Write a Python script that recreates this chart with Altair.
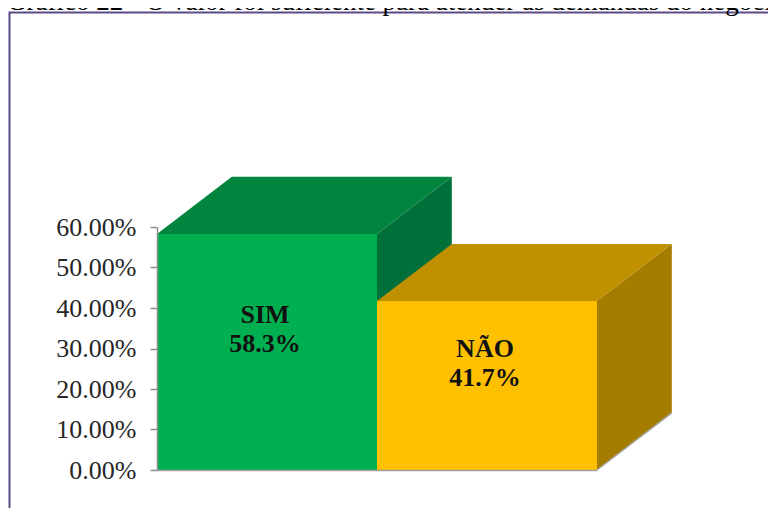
import altair as alt
import pandas as pd

# ---- data ----
categories = ["SIM", "NÃO"]
values = [0.583, 0.417]
front_colors = ["#00B050", "#FFC000"]
top_colors = ["#00843E", "#BF9000"]
side_colors = ["#00703A", "#A47D00"]
y_ticks = [0.0, 0.1, 0.2, 0.3, 0.4, 0.5, 0.6]
title_text = "Gráfico 22 - O valor foi suficiente para atender as demandas do negócio"

# 3D depth of the Excel-like bars (in data units)
DEPTH_X = 0.34
DEPTH_Y = 0.141
BAR_W = 1.0

front_rows, top_rows, side_rows, edge_rows, label_rows = [], [], [], [], []
for i, (c, v) in enumerate(zip(categories, values)):
    x0 = i * BAR_W
    x1 = x0 + BAR_W
    front_rows.append(dict(cat=c, x=x0, x2=x1, lo=0.0, hi=v, fill=front_colors[i]))
    top_rows += [
        dict(cat=c, x=x0, lo=v, hi=v, fill=top_colors[i]),
        dict(cat=c, x=x0 + DEPTH_X, lo=v, hi=v + DEPTH_Y, fill=top_colors[i]),
        dict(cat=c, x=x1, lo=v, hi=v + DEPTH_Y, fill=top_colors[i]),
        dict(cat=c, x=x1 + DEPTH_X, lo=v + DEPTH_Y, hi=v + DEPTH_Y, fill=top_colors[i]),
    ]
    side_rows += [
        dict(cat=c, x=x1, lo=0.0, hi=v, fill=side_colors[i]),
        dict(cat=c, x=x1 + DEPTH_X, lo=DEPTH_Y, hi=v + DEPTH_Y, fill=side_colors[i]),
    ]
    edge_rows.append(dict(cat=c, x=x1, x2=x1 + DEPTH_X, lo=0.0, hi=DEPTH_Y))
    label_rows.append(dict(cat=c, x=x0 + BAR_W / 2, y=v / 2,
                           label=f"{c}\n{v * 100:.1f}%"))

front_df = pd.DataFrame(front_rows)
top_df = pd.DataFrame(top_rows)
side_df = pd.DataFrame(side_rows)
edge_df = pd.DataFrame(edge_rows)
label_df = pd.DataFrame(label_rows)

xs = alt.Scale(domain=[0, len(categories) * BAR_W], nice=False, zero=False)
ys = alt.Scale(domain=[0, 0.6], nice=False)

y_axis = alt.Axis(values=y_ticks, format=".2%", title=None, grid=False,
                  labelFont="Liberation Serif", labelFontSize=26,
                  labelColor="#262626", labelPadding=14,
                  tickColor="#8c8c8c", tickSize=7, tickWidth=1.5,
                  domainColor="#8c8c8c", domainWidth=1.5, zindex=1)
x_axis = alt.Axis(labels=False, ticks=False, title=None, grid=False,
                  domainColor="#a0a0a0", domainWidth=1.5, zindex=1)

sides = alt.Chart(side_df).mark_area(orient="vertical", interpolate="linear").encode(
    x=alt.X("x:Q", scale=xs, axis=x_axis),
    y=alt.Y("lo:Q", scale=ys, axis=y_axis, stack=None),
    y2="hi:Q",
    color=alt.Color("fill:N", scale=None),
    detail="cat:N",
)

tops = alt.Chart(top_df).mark_area(orient="vertical", interpolate="linear").encode(
    x=alt.X("x:Q", scale=xs, axis=x_axis),
    y=alt.Y("lo:Q", scale=ys, axis=y_axis, stack=None),
    y2="hi:Q",
    color=alt.Color("fill:N", scale=None),
    detail="cat:N",
)

edges = alt.Chart(edge_df).mark_rule(color="#a6a6a6", strokeWidth=1.5).encode(
    x=alt.X("x:Q", scale=xs, axis=x_axis),
    x2="x2:Q",
    y=alt.Y("lo:Q", scale=ys, axis=y_axis),
    y2="hi:Q",
)

fronts = alt.Chart(front_df).mark_rect().encode(
    x=alt.X("x:Q", scale=xs, axis=x_axis),
    x2="x2:Q",
    y=alt.Y("lo:Q", scale=ys, axis=y_axis),
    y2="hi:Q",
    color=alt.Color("fill:N", scale=None),
)

labels = alt.Chart(label_df).mark_text(
    font="Liberation Serif", fontSize=26, fontWeight="bold", color="#111111",
    lineBreak="\n", lineHeight=29, align="center", baseline="middle",
    dy=-37, dx=-2,
).encode(
    x=alt.X("x:Q", scale=xs, axis=x_axis),
    y=alt.Y("y:Q", scale=ys, axis=y_axis),
    text="label:N",
)

frame_df = pd.DataFrame({"name": ["frame"]})
frame = alt.Chart(frame_df).mark_rect(
    fillOpacity=0, stroke="#5B4A86", strokeWidth=2,
).encode(
    x=alt.value(-147.5), x2=alt.value(700),
    y=alt.value(-214.5), y2=alt.value(400),
)

title_df = pd.DataFrame({"t": [title_text]})
title = alt.Chart(title_df).mark_text(
    font="Liberation Serif", fontSize=27, color="#000000",
    align="left", baseline="alphabetic",
).encode(
    x=alt.value(-150), y=alt.value(-217), text="t:N",
)

chart = alt.layer(frame, title, sides, tops, edges, fronts, labels).properties(
    width=440, height=243,
    autosize=alt.AutoSizeParams(type="none"),
    padding={"left": 149, "top": 219, "right": 171, "bottom": 38},
    background="white",
).configure_view(stroke=None)

chart.save("out.html", embed_options={"renderer": "svg", "actions": False})
